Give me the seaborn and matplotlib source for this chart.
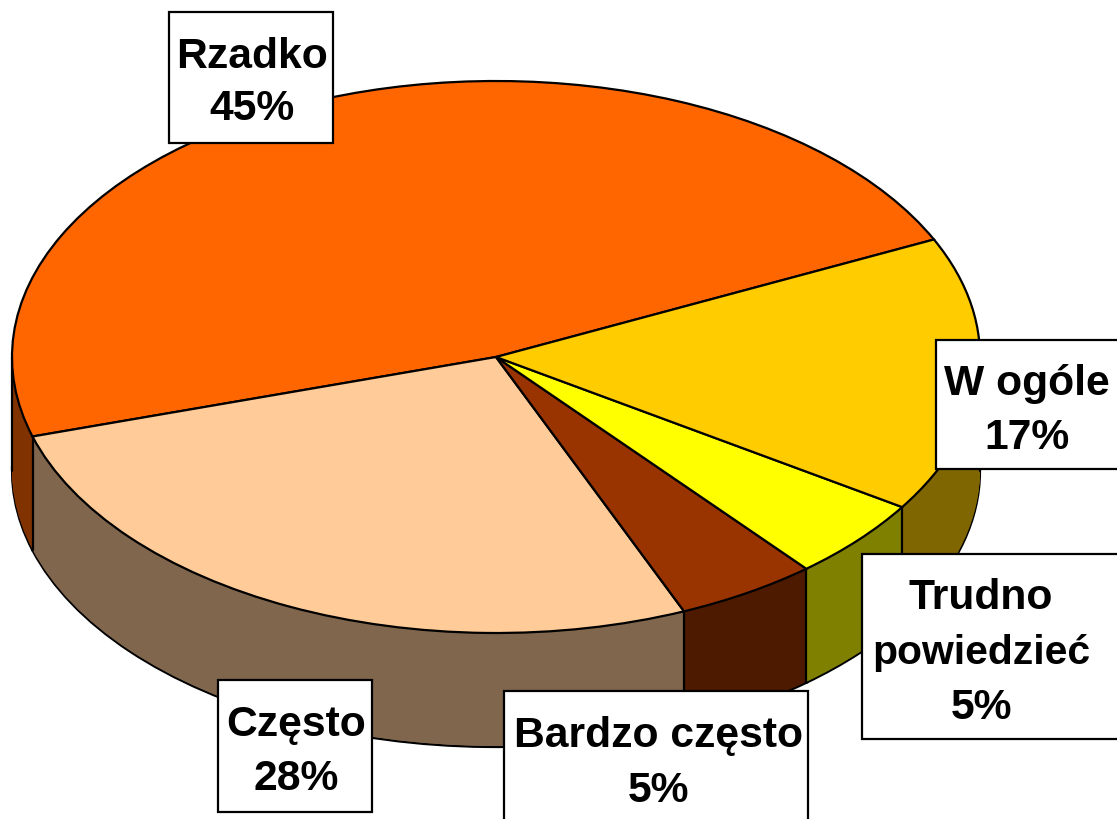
import matplotlib
matplotlib.use("Agg")
import matplotlib.pyplot as plt
from matplotlib.patches import Rectangle
import numpy as np
import pandas as pd
import seaborn as sns

# etykiety wykresu
categories = ["Rzadko", "Często", "Bardzo często", "Trudno\npowiedzieć", "W ogóle"]
percent_labels = [45, 28, 5, 5, 17]
drawn_shares = [47.65, 26.7, 4.73, 4.77, 16.15]
top_colors = ["#FF6600", "#FFCC99", "#993300", "#FFFF00", "#FFCC00"]
side_colors = ["#803300", "#80664D", "#4D1A00", "#808000", "#806600"]

df = pd.DataFrame({"kategoria": categories, "procent": percent_labels, "udzial": drawn_shares})

W, H = 1117, 820
cx, cy = 496, 358
rx, ry = 484, 276
depth = 114
squash = ry / rx
start = 25.2

sns.set_theme(style="white")
plt.rcParams["font.family"] = ["Liberation Sans", "DejaVu Sans"]

fig = plt.figure(figsize=(W / 100, H / 100), dpi=100)
ax = fig.add_axes([0, 0, 1, 1])


def draw_pie(offset, colors, edge):
    ax.pie(df["udzial"], colors=sns.color_palette(colors), startangle=start, counterclock=True,
           radius=rx, center=(cx, -offset / squash),
           wedgeprops={"edgecolor": edge, "linewidth": 1.6 if edge != "none" else 0})


# sciana boczna - kolejne warstwy od dolu
draw_pie(depth, side_colors, "black")
for d in range(depth - 1, 0, -1):
    draw_pie(d, side_colors, "none")

# pionowe krawedzie z przodu
bounds = start + np.cumsum(df["udzial"].to_numpy()) * 3.6
for b in bounds:
    if np.sin(np.deg2rad(b)) < 0:
        x = cx + rx * np.cos(np.deg2rad(b))
        y = ry * np.sin(np.deg2rad(b)) / squash
        ax.plot([x, x], [y, y - depth / squash], color="black", lw=1.6, zorder=5)
for x in [cx - rx, cx + rx]:
    ax.plot([x, x], [0, -depth / squash], color="black", lw=1.6, zorder=5)

# gorna powierzchnia
top = ax.pie(df["udzial"], colors=sns.color_palette(top_colors), startangle=start, radius=rx,
             center=(cx, 0), wedgeprops={"edgecolor": "black", "linewidth": 1.6})
for w in top[0]:
    w.set_zorder(6)

ax.set_aspect("auto")
ax.set_xlim(0, W)
ax.set_ylim((cy - H) / squash, cy / squash)
ax.axis("off")

# ramki z opisami
boxes = {
    "Rzadko": (169, 13, 333, 144, 252, [57, 109]),
    "Często": (218, 681, 372, 813, 296, [725, 779]),
    "Bardzo często": (504, 692, 808, 830, 658, [736, 791]),
    "Trudno\npowiedzieć": (862, 555, 1130, 740, 981, [598, 653, 708]),
    "W ogóle": (936, 341, 1130, 470, 1027, [384, 438]),
}
for _, row in df.iterrows():
    x0, y0, x1, y1, tx, ys = boxes[row["kategoria"]]
    fig.add_artist(Rectangle((x0 / W, 1 - y1 / H), (x1 - x0) / W, (y1 - y0) / H,
                             transform=fig.transFigure, facecolor="white", edgecolor="black",
                             linewidth=1.6, zorder=10))
    lines = row["kategoria"].split("\n") + [f"{row['procent']}%"]
    for line, y in zip(lines, ys):
        size = 29.4 if line == "powiedzieć" else 30.7
        fig.text(tx / W, 1 - y / H, line, ha="center", va="center", fontsize=size,
                 fontweight="bold", color="black", zorder=11)

fig.savefig("out.png", dpi=100)
